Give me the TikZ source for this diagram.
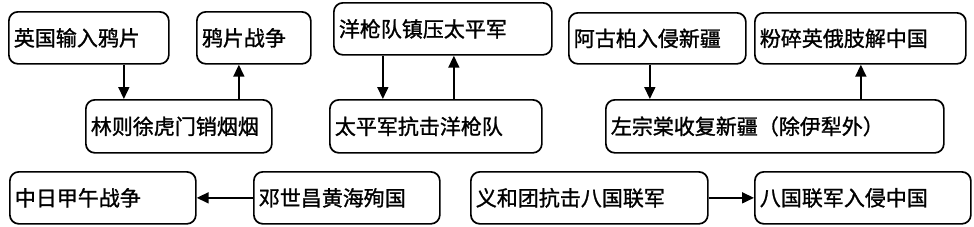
\documentclass[tikz,border=0pt]{standalone}
\usepackage{fontspec}
\newfontfamily\cjk[FakeBold=1.2]{Noto Sans CJK SC}
\usetikzlibrary{arrows.meta}
\tikzset{
  evbox/.style={draw, line width=1.7pt, rounded corners=9pt, anchor=north west,
    inner xsep=5pt, inner ysep=0pt, align=left, minimum height=52pt,
    font=\cjk\fontsize{21pt}{24pt}\selectfont},
  evarrow/.style={line width=1.7pt, -{Triangle[length=12pt,width=11pt]}}
}
\begin{document}
\begin{tikzpicture}[x=1pt,y=-1pt]
  \useasboundingbox (0,0) rectangle (974,226);
  % upper row
  \node[evbox, text width=150pt] (opium) at (8,11) {英国输入鸦片};
  \node[evbox, text width=104pt] (war) at (196,11) {鸦片战争};
  \node[evbox, text width=208pt] (suppress) at (333,2) {洋枪队镇压太平军};
  \node[evbox, text width=167pt, minimum height=51pt] (yakub) at (568,12) {阿古柏入侵新疆};
  \node[evbox, text width=201pt, minimum height=51pt] (smash) at (754,12) {粉碎英俄肢解中国};
  % middle row
  \node[evbox, text width=176pt, minimum height=53pt] (lin) at (85,99) {林则徐虎门销烟烟};
  \node[evbox, text width=202pt, minimum height=53pt] (resist) at (329,99) {太平军抗击洋枪队};
  \node[evbox, text width=328pt, minimum height=53pt] (zuo) at (605,99) {左宗棠收复新疆（除伊犁外）};
  % lower row
  \node[evbox, text width=176pt] (sino) at (9,171) {中日甲午战争};
  \node[evbox, text width=176pt] (deng) at (253,171) {邓世昌黄海殉国};
  \node[evbox, text width=227pt] (boxer) at (470,171) {义和团抗击八国联军};
  \node[evbox, text width=206pt] (allied) at (754,171) {八国联军入侵中国};
  % arrows
  \draw[evarrow] ([xshift=35pt]opium.south) -- ([xshift=35pt]opium.south |- lin.north);
  \draw[evarrow] ([xshift=60pt]lin.north) -- ([xshift=60pt]lin.north |- war.south);
  \draw[evarrow] ([xshift=-60pt]suppress.south) -- ([xshift=-60pt]suppress.south |- resist.north);
  \draw[evarrow] ([xshift=18pt]resist.north) -- ([xshift=18pt]resist.north |- suppress.south);
  \draw[evarrow] ([xshift=-7.5pt]yakub.south) -- ([xshift=-7.5pt]yakub.south |- zuo.north);
  \draw[evarrow] ([xshift=86pt]zuo.north) -- ([xshift=86pt]zuo.north |- smash.south);
  \draw[evarrow] (deng.west) -- (sino.east);
  \draw[evarrow] (boxer.east) -- (allied.west);
\end{tikzpicture}
\end{document}
